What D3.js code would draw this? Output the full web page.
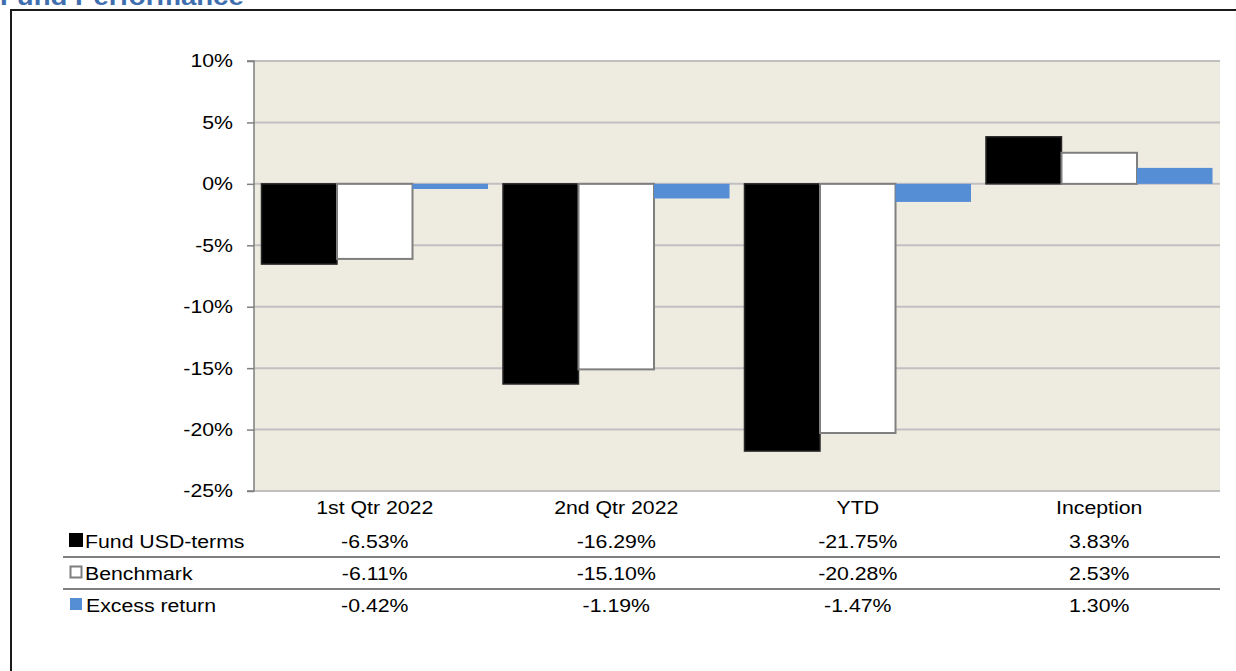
<!DOCTYPE html>
<html><head><meta charset="utf-8">
<script src="https://cdn.jsdelivr.net/npm/d3@7"></script>
<style>body{margin:0;background:#fff;}svg{display:block;font-family:"Liberation Sans",Arial,sans-serif;}</style>
</head><body>
<svg id="c" width="1236" height="671"></svg>
<script>
const categories = ["1st Qtr 2022", "2nd Qtr 2022", "YTD", "Inception"];
const seriesNames = ["Fund USD-terms", "Benchmark", "Excess return"];
const fund = [-6.53, -16.29, -21.75, 3.83];
const benchmark = [-6.11, -15.10, -20.28, 2.53];
const excess = [-0.42, -1.19, -1.47, 1.30];
const yTicks = [10, 5, 0, -5, -10, -15, -20, -25];
const title = "Fund Performance";

const svg = d3.select("#c");
const L = 254, R = 1220, T = 61, B = 491;
const SX = 1.15, FS = 18.5;
const series = [fund, benchmark, excess];
const fills = ["#000000", "#ffffff", "#558ed5"];
const strokes = ["#262626", "#7f7f7f", "none"];

function txt(g, x, yy, s, anchor, size, extra) {
  const t = g.append("text")
    .attr("transform", `translate(${x},${yy}) scale(${SX},1)`)
    .attr("text-anchor", anchor || "start")
    .attr("font-size", size || FS)
    .attr("fill", "#000")
    .text(s);
  return t;
}

// frame
svg.append("path").attr("d", "M11,671 L11,10 L1236,10").attr("fill", "none").attr("stroke", "#1a1a1a").attr("stroke-width", 2);
txt(svg, 0, 5, title, "start", 24).attr("font-weight", "bold").attr("fill", "#3f6eae");

const y = d3.scaleLinear().domain([-25, 10]).range([B, T]);
const x0 = d3.scaleBand().domain(categories).range([L, R]).paddingInner(0.062).paddingOuter(0.031);
const x1 = d3.scaleBand().domain([0, 1, 2]).range([0, x0.bandwidth()]);

svg.append("rect").attr("x", L).attr("y", T).attr("width", R - L).attr("height", B - T).attr("fill", "#eeebe1");

// grid
svg.append("g").selectAll("line").data(yTicks).join("line")
  .attr("x1", L).attr("x2", R).attr("y1", d => y(d)).attr("y2", d => y(d))
  .attr("stroke", "#c0c0c0").attr("stroke-width", 2);

// y axis
const yAxis = d3.axisLeft(y).tickValues(yTicks).tickFormat(d => d + "%").tickSize(7).tickPadding(14);
const ga = svg.append("g").attr("transform", `translate(${L},0)`).call(yAxis);
ga.select(".domain").attr("stroke", "#7f7f7f").attr("stroke-width", 1.5).attr("d", `M-7,${T}H0V${B}H-7`);
ga.selectAll(".tick line").attr("stroke", "#7f7f7f").attr("stroke-width", 1.5);
ga.selectAll(".tick text").attr("font-size", FS).attr("fill", "#000")
  .attr("font-family", "Liberation Sans, Arial, sans-serif")
  .attr("x", null).attr("transform", `translate(-21,0) scale(${SX},1)`);

// bars
series.forEach((vals, si) => {
  svg.append("g").selectAll("rect").data(vals).join("rect")
    .attr("x", (d, i) => x0(categories[i]) + x1(si))
    .attr("width", x1.bandwidth())
    .attr("y", d => y(Math.max(0, d)))
    .attr("height", d => Math.abs(y(d) - y(0)))
    .attr("fill", fills[si])
    .attr("stroke", strokes[si])
    .attr("stroke-width", si === 1 ? 2 : 1.5);
});

// table
const cx = c => x0(c) + x0.bandwidth() / 2;
const tg = svg.append("g");
categories.forEach(c => txt(tg, cx(c), 514, c, "middle"));

const rowY = [548, 580, 612];
series.forEach((vals, si) => {
  svg.append("rect").attr("x", 70).attr("y", rowY[si] - 14).attr("width", si === 1 ? 11 : 12).attr("height", si === 1 ? 11 : 12)
    .attr("fill", fills[si]).attr("stroke", si === 1 ? "#7f7f7f" : (si === 0 ? "#000" : "none")).attr("stroke-width", 2)
    .attr("transform", si === 1 ? "translate(0.5,0.5)" : null);
  txt(tg, si === 2 ? 86 : 85, rowY[si], seriesNames[si], "start");
  vals.forEach((d, i) => txt(tg, cx(categories[i]), rowY[si], d.toFixed(2) + "%", "middle"));
});
[557, 589].forEach(ly => {
  svg.append("line").attr("x1", 63).attr("x2", R).attr("y1", ly).attr("y2", ly).attr("stroke", "#555").attr("stroke-width", 1.5);
});
</script>
</body></html>
